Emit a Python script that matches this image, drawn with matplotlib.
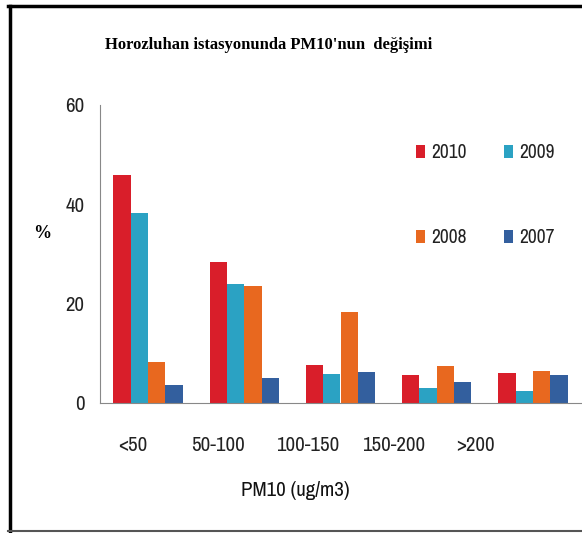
import matplotlib
matplotlib.use("Agg")
import matplotlib.pyplot as plt
from matplotlib import font_manager
from matplotlib.font_manager import FontProperties
from matplotlib.lines import Line2D
import numpy as np

# data
categories = ["<50", "50-100", "100-150", "150-200", ">200"]
years = ["2010", "2009", "2008", "2007"]
pm_2010 = [46.0, 28.4, 7.6, 5.7, 6.1]
pm_2009 = [38.2, 23.9, 5.8, 3.1, 2.5]
pm_2008 = [8.2, 23.6, 18.4, 7.5, 6.4]
pm_2007 = [3.7, 5.0, 6.2, 4.3, 5.7]
colors = ["#D91E2A", "#2BA2C3", "#E8681F", "#335F9E"]
yticks = [0, 20, 40, 60]
# tick labels in the reference sit a bit left of their groups
label_shift = [-0.16, -0.27, -0.34, -0.45, -0.6]

# look for a narrow upright sans (Arial Narrow look)
narrow = None
for f in font_manager.fontManager.ttflist:
    low = f.fname.lower()
    if "narrow" in low and "italic" not in low and "bold" not in low and f.style == "normal":
        narrow = f.fname
        break
if narrow:
    sans_fp = FontProperties(fname=narrow, size=15)
    leg_fp = FontProperties(fname=narrow, size=14)
else:
    sans_fp = FontProperties(family="Liberation Sans", size=12.5)
    leg_fp = FontProperties(family="Liberation Sans", size=12)
title_fp = FontProperties(family="Liberation Serif", weight="bold", size=12)

W, H = 582, 533
fig = plt.figure(figsize=(W / 100, H / 100), dpi=100)
ax = fig.add_axes([100 / W, (H - 403) / H, 481 / W, 298 / H])

x = np.arange(len(categories))
bw = 0.18
series = [pm_2010, pm_2009, pm_2008, pm_2007]
for i, (vals, c, yr) in enumerate(zip(series, colors, years)):
    ax.bar(x + (i - 1.5) * bw, vals, bw, color=c, label=yr)

ax.set_xlim(-0.5, 4.5)
ax.set_ylim(0, 60)
ax.set_yticks(yticks)
ax.set_xticks(x + np.array(label_shift))
ax.set_xticklabels(categories, fontproperties=sans_fp, color="#222222")
ax.set_yticklabels([str(t) for t in yticks], fontproperties=sans_fp, color="#222222")
ax.tick_params(axis="y", length=0, pad=11)
ax.tick_params(axis="x", length=0, pad=24)
for s in ["top", "right"]:
    ax.spines[s].set_visible(False)
ax.spines["left"].set_color("#888888")
ax.spines["bottom"].set_color("#888888")

fig.text(295 / W, 1 - 490 / H, "PM10 (ug/m3)", ha="center", va="center",
         fontproperties=sans_fp, color="#111111")

# legend 2x2
h, l = ax.get_legend_handles_labels()
order = [0, 2, 1, 3]
leg = ax.legend([h[k] for k in order], [l[k] for k in order], ncol=2,
                loc="upper left", bbox_to_anchor=(0.62, 0.93), frameon=False,
                prop=leg_fp, handlelength=0.5, handleheight=0.6,
                handletextpad=0.3, columnspacing=1.9, labelspacing=3.4)
for t in leg.get_texts():
    t.set_color("#222222")

fig.text(269 / W, 1 - 45 / H, "Horozluhan istasyonunda PM10'nun  değişimi",
         ha="center", va="center", fontproperties=title_fp)
fig.text(42 / W, 1 - 233 / H, "%", ha="center", va="center", fontsize=13,
         fontweight="bold", family="Liberation Serif")

# frame round the picture
fig.add_artist(Line2D([9.5 / W, 9.5 / W], [1 - 6 / H, 1 - 531 / H], color="black", lw=2.5))
fig.add_artist(Line2D([8 / W, 1], [1 - 6 / H, 1 - 6 / H], color="black", lw=2.5))
fig.add_artist(Line2D([8 / W, 1], [1 - 531 / H, 1 - 531 / H], color="#555555", lw=1.5))

fig.savefig("out.png", dpi=100)
